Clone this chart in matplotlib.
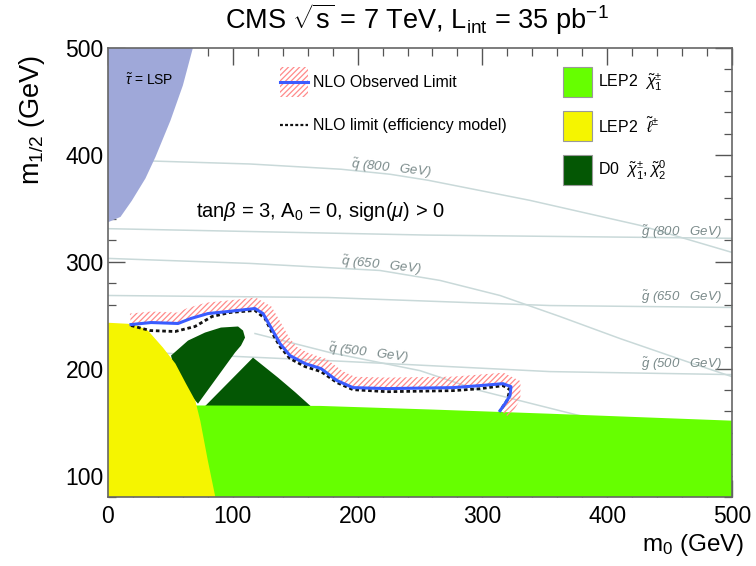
import numpy as np
import matplotlib
matplotlib.use('Agg')
import matplotlib.pyplot as plt
from matplotlib.patches import Polygon, Rectangle
from matplotlib.lines import Line2D
from matplotlib.ticker import MultipleLocator

plt.rcParams['font.family'] = ['Liberation Sans', 'DejaVu Sans']
plt.rcParams['mathtext.fontset'] = 'custom'
plt.rcParams['mathtext.rm'] = 'Liberation Sans'
plt.rcParams['mathtext.it'] = 'Liberation Sans:italic'
plt.rcParams['mathtext.bf'] = 'Liberation Sans:bold'
plt.rcParams['mathtext.sf'] = 'Liberation Sans'
plt.rcParams['hatch.linewidth'] = 0.9

# ---------------- data (m0, m1/2 in GeV) ----------------
stau_m0 = [0, 10, 19, 30, 38, 50, 60, 68]
stau_m12 = [337, 342, 357, 378, 398, 432, 465, 500]

lep_slep_m0 = [0, 16, 24, 32, 44, 54, 62.5, 70, 74, 80, 86]
lep_slep_m12 = [243, 242, 240, 235.7, 219.8, 204.8, 186, 170, 151, 114, 80]

lep_char_m0 = [0, 75, 170, 260, 354, 430, 500]
lep_char_m12 = [166, 165.6, 165.2, 161.8, 157.9, 154.5, 151.4]

d0_a_m0 = [55, 50.5, 64.1, 77.7, 90.5, 104.2, 108.2, 109.8, 106.6, 101.8, 72.1]
d0_a_m12 = [190, 212.3, 226.3, 233.8, 238.5, 239.5, 235.7, 229.1, 221.7, 215.1, 167.3]

d0_b_m0 = [76.1, 116.2, 136.2, 150, 164.3]
d0_b_m12 = [163, 210.4, 191.7, 178, 163]

obs_m0 = [18.4, 34.5, 56.1, 66.5, 80.1, 96.2, 117.8, 124.2, 130.6, 137.8, 145.8,
          157.9, 170.7, 183.5, 196.3, 223.6, 276.4, 298.1, 316.5, 322.9, 322.1, 318.1, 314.1]
obs_m12 = [241.3, 243.2, 242.3, 247.0, 251.6, 253.5, 256.3, 251.6, 238.5, 223.5, 212.3,
           204.8, 200.1, 188.9, 182.3, 181.4, 182.3, 184.2, 186.0, 183.2, 174.8, 167.3, 160.7]

eff_m0 = [18.4, 33.7, 53.7, 69.7, 83.3, 97.8, 117.8, 125.8, 131.4, 137.8, 145.8,
          157.9, 170.7, 183.5, 196.3, 223.6, 276.4, 298.1, 316.5, 322.1, 319.7, 314.1]
eff_m12 = [240.4, 235.7, 234.8, 239.5, 248.8, 252.6, 254.5, 247.0, 233.8, 220.7, 209.5,
           202.0, 197.3, 187.0, 180.4, 178.5, 179.5, 181.3, 184.2, 180.4, 170.1, 160.7]

# iso-mass contours
sq800_m0 = [0, 40.1, 113.8, 186.7, 226, 256.4, 338, 426.3, 500]
sq800_m12 = [396, 394.1, 391.5, 386.6, 381.9, 376.3, 357.5, 334.1, 308.8]
sq650_m0 = [0, 113.8, 217.9, 266.0, 314.1, 362.2, 410.3, 466.3, 500]
sq650_m12 = [303.2, 298.5, 291.9, 282.6, 268.5, 248.8, 228.2, 205.7, 192.6]
sq500_m0 = [117.8, 177.9, 250, 298.1, 362.2, 394.2]
sq500_m12 = [232.9, 215.1, 198.2, 179.5, 160.7, 151.4]
gl800_m0 = [0, 256, 500]
gl800_m12 = [331, 325, 322]
gl650_m0 = [0, 176.3, 354.2, 500]
gl650_m12 = [268.5, 266.6, 259.1, 257.3]
gl500_m0 = [0, 177.9, 354.2, 500]
gl500_m12 = [216.9, 207.5, 197.3, 194.5]

iso_labels = [r'$\tilde{q}$ (800   GeV)', r'$\tilde{q}$ (650   GeV)', r'$\tilde{q}$ (500   GeV)',
              r'$\tilde{g}$ (800   GeV)', r'$\tilde{g}$ (650   GeV)', r'$\tilde{g}$ (500   GeV)']

# ---------------- figure ----------------
fig = plt.figure(figsize=(7.56, 5.66), dpi=100)
ax = fig.add_axes([108/756, 1-497/566, 624/756, 449/566])
ax.set_xlim(0, 500)
ax.set_ylim(80, 500)

iso_col = '#c9d9d9'
for xs, ys in [(sq800_m0, sq800_m12), (sq650_m0, sq650_m12), (sq500_m0, sq500_m12),
               (gl800_m0, gl800_m12), (gl650_m0, gl650_m12), (gl500_m0, gl500_m12)]:
    ax.plot(xs, ys, color=iso_col, lw=1.1, zorder=1)

# filled regions
ax.add_patch(Polygon(list(zip(stau_m0, stau_m12)) + [(0, 500)], closed=True,
                     facecolor='#9fa8d9', edgecolor='none', zorder=2))
ax.add_patch(Polygon(list(zip(d0_a_m0, d0_a_m12)), closed=True,
                     facecolor='#045704', edgecolor='none', zorder=2))
ax.add_patch(Polygon(list(zip(d0_b_m0, d0_b_m12)), closed=True,
                     facecolor='#045704', edgecolor='none', zorder=2))
ax.add_patch(Polygon([(0, 80)] + list(zip(lep_char_m0, lep_char_m12)) + [(500, 80)], closed=True,
                     facecolor='#66ff00', edgecolor='none', zorder=2.1))
ax.add_patch(Polygon(list(zip(lep_slep_m0, lep_slep_m12)) + [(0, 80)], closed=True,
                     facecolor='#f5f500', edgecolor='none', zorder=2.2))

# hatch band on the excluded side of the observed limit
fig.canvas.draw()
pts = ax.transData.transform(np.column_stack([obs_m0, obs_m12]))
d = np.gradient(pts, axis=0)
d /= np.linalg.norm(d, axis=1)[:, None]
nrm = np.column_stack([-d[:, 1], d[:, 0]])
outer = pts + 11 * nrm
band = np.vstack([pts, outer[::-1]])
band_data = ax.transData.inverted().transform(band)
ax.add_patch(Polygon(band_data, closed=True, facecolor='none', edgecolor='#ff8a8a',
                     hatch='//////', linewidth=0, zorder=3))

ax.plot(eff_m0, eff_m12, color='#111111', lw=2.0, ls=(0, (1.3, 1.0)), zorder=4)
ax.plot(obs_m0, obs_m12, color='#3a5cff', lw=2.2, zorder=5)

# iso-mass labels
lab_kw = dict(fontsize=9.5, color='#7a8a8a', style='italic', ha='center', va='center', zorder=6)
ax.text(226.8, 387.5, iso_labels[0], rotation=-6, **lab_kw)
ax.text(218.8, 296.6, iso_labels[1], rotation=-6, **lab_kw)
ax.text(208.3, 214.1, iso_labels[2], rotation=-7, **lab_kw)
ax.text(459.1, 327.6, iso_labels[3], rotation=0, **lab_kw)
ax.text(459.1, 266.6, iso_labels[4], rotation=0, **lab_kw)
ax.text(459.1, 203.8, iso_labels[5], rotation=0, **lab_kw)

# texts
ax.text(0.027, 0.929, r'$\tilde{\tau}$ = LSP', transform=ax.transAxes, fontsize=10,
        ha='left', va='center', zorder=6)
ax.text(0.141, 0.635, r'tan$\beta$ = 3, A$_0$ = 0, sign($\mu$) > 0', transform=ax.transAxes,
        fontsize=14.5, ha='left', va='center', zorder=6)

# legend 1 (manual, ROOT-style)
ax.add_patch(Rectangle((0.2756, 0.891), 0.045, 0.067, transform=ax.transAxes, facecolor='none',
                       edgecolor='#ff8a8a', hatch='//////', linewidth=0, zorder=6))
ax.add_line(Line2D([0.2756, 0.3205], [0.924, 0.924], transform=ax.transAxes,
                   color='#3a5cff', lw=2.2, zorder=7))
ax.text(0.3285, 0.924, 'NLO Observed Limit', transform=ax.transAxes, fontsize=11.4,
        ha='left', va='center', zorder=7)
ax.add_line(Line2D([0.2756, 0.3205], [0.8285, 0.8285], transform=ax.transAxes,
                   color='#111111', lw=1.6, ls=(0, (1.3, 1.0)), zorder=7))
ax.text(0.3285, 0.8285, 'NLO limit (efficiency model)', transform=ax.transAxes, fontsize=11.4,
        ha='left', va='center', zorder=7)

# legend 2
leg2 = [('#66ff00', r'LEP2  $\tilde{\chi}^{\pm}_{1}$', 0.924),
        ('#f5f500', r'LEP2  $\tilde{\ell}^{\pm}$', 0.826),
        ('#045704', r'D0  $\tilde{\chi}^{\pm}_{1}, \tilde{\chi}^{0}_{2}$', 0.728)]
for col, lab, yc in leg2:
    ax.add_patch(Rectangle((0.7292, yc - 0.034), 0.0464, 0.068, transform=ax.transAxes,
                           facecolor=col, edgecolor='#999999', lw=0.8, zorder=7))
    ax.text(0.785, yc, lab, transform=ax.transAxes, fontsize=11.5, ha='left', va='center', zorder=7)

# axes styling
ax.xaxis.set_major_locator(MultipleLocator(100))
ax.xaxis.set_minor_locator(MultipleLocator(20))
ax.yaxis.set_major_locator(MultipleLocator(100))
ax.yaxis.set_minor_locator(MultipleLocator(20))
ax.tick_params(which='both', direction='in', top=True, right=True, color='#555555')
ax.tick_params(which='major', length=12, width=1.0, labelsize=16.5)
ax.tick_params(axis='y', which='major', pad=3)
ax.tick_params(axis='x', which='major', pad=6)
ax.tick_params(which='minor', length=6, width=0.9)
for s in ax.spines.values():
    s.set_color('#666666')
    s.set_linewidth(1.2)
    s.set_zorder(8)

fig.text(0.552, 0.966, r'CMS $\sqrt{\mathrm{s}}$ = 7 TeV, L$_{\rm int}$ = 35 pb$^{-1}$',
         fontsize=19.5, ha='center', va='center')
fig.text(0.042, 0.903, r'm$_{1/2}$ (GeV)', rotation=90, fontsize=19.5, ha='center', va='top')
fig.text(0.985, 0.037, r'm$_0$ (GeV)', fontsize=17.5, ha='right', va='center')

fig.savefig('out.png', dpi=100)
